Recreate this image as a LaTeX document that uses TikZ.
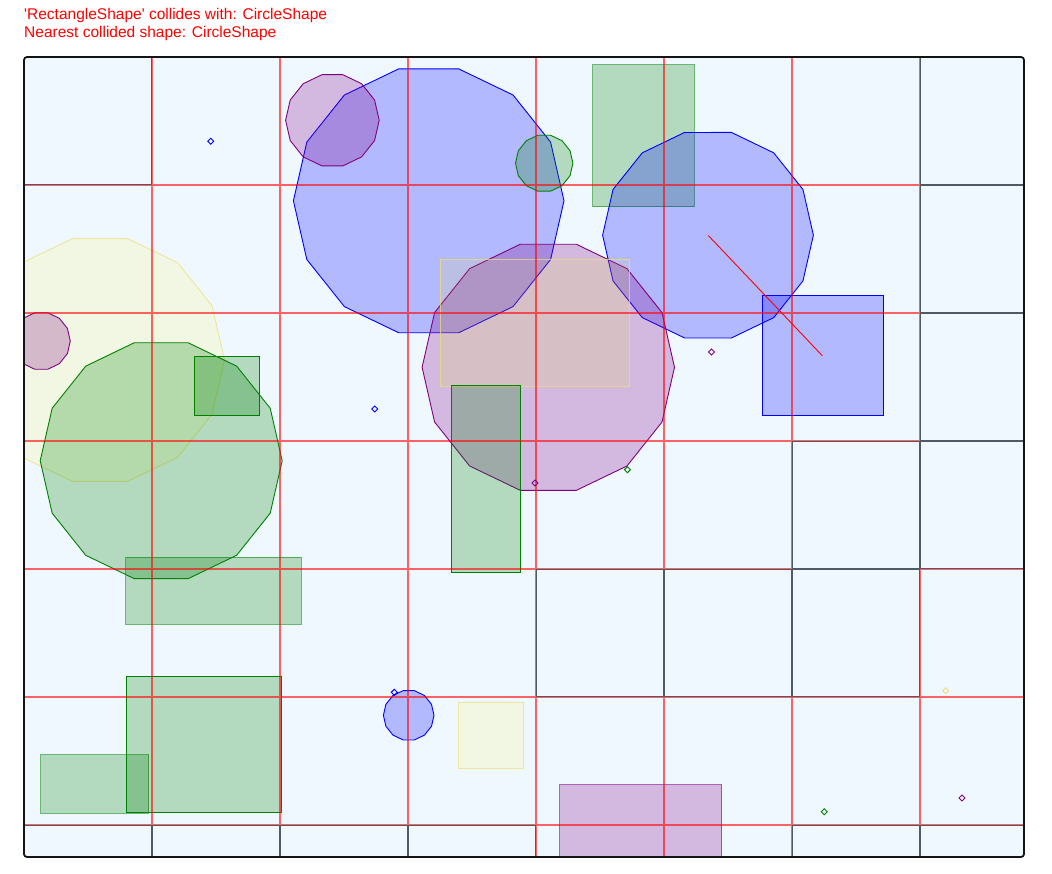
\documentclass[tikz,border=0pt]{standalone}
\usepackage{fontspec}
\setmainfont{Liberation Sans}
\definecolor{bgc}{RGB}{240,248,255}
\definecolor{gr}{RGB}{0,128,0}
\definecolor{pu}{RGB}{128,0,128}
\definecolor{gridgray}{RGB}{80,90,100}
\definecolor{yelstroke}{RGB}{236,224,120}
\tikzset{
  txt/.style={text=red, font=\fontsize{15.5}{18}\selectfont, inner sep=0pt},
  bluesh/.style={draw=blue, fill=blue, fill opacity=0.25, line width=0.9pt},
  pursh/.style={draw=pu, fill=pu, fill opacity=0.25, line width=0.9pt},
  pursl/.style={draw=pu, draw opacity=0.6, fill=pu, fill opacity=0.25, line width=0.9pt},
  grsh/.style={draw=gr, fill=gr, fill opacity=0.25, line width=0.9pt},
  grsl/.style={draw=gr, draw opacity=0.55, fill=gr, fill opacity=0.25, line width=0.9pt},
  yelsh/.style={draw=yelstroke, draw opacity=0.7, fill=yellow, fill opacity=0.11, line width=0.9pt},
  redcell/.style={draw=red, draw opacity=0.6, line width=1.5pt},
  graycell/.style={draw=gridgray, line width=1.3pt},
  diam/.style={line width=0.9pt},
}
\newcommand{\polyshape}[4]{%
  \draw[#1] plot[samples=14, domain=0:334.2857, variable=\t] ({#2+#4*cos(\t)},{#3+#4*sin(\t)}) -- cycle;}
\newcommand{\diamondmark}[3]{%
  \draw[diam,#1] (#2,#3) ++(-3,0) -- ++(3,3) -- ++(3,-3) -- ++(-3,-3) -- cycle;}
\newcommand{\cellbox}[3]{%
  \pgfmathsetmacro\xa{24+128*#2+0.7}%
  \pgfmathsetmacro\xb{min(24+128*(#2+1),1024)-0.7}%
  \pgfmathsetmacro\ya{57+128*#3+0.7}%
  \pgfmathsetmacro\yb{min(57+128*(#3+1),857)-0.7}%
  \draw[#1] (\xa,\ya) rectangle (\xb,\yb);}
\begin{document}
\begin{tikzpicture}[x=1pt,y=-1pt]
\useasboundingbox (0,0) rectangle (1052,873);
\node[txt, anchor=base west] (msg1) at (24,19) {\textquotesingle RectangleShape\textquotesingle{} collides with: CircleShape};
\node[txt, anchor=base west] (msg2) at (24,37.7) {Nearest collided shape: CircleShape};
\fill[bgc, rounded corners=3pt] (24,57) rectangle (1024,857);
\begin{scope}
  \clip (24,57) rectangle (1024,857);
  % circles (14-gons)
  \polyshape{bluesh}{428.7}{200.8}{135.3}
  \polyshape{pursh}{332.4}{120.3}{46.8}
  \polyshape{grsh}{544.2}{163.2}{28.7}
  \draw[grsl] (592.5,64.7) rectangle (694.3,206.7);
  \polyshape{bluesh}{708}{235.2}{105.4}
  \polyshape{pursh}{548.3}{367.3}{126.2}
  \draw[yelsh] (440.3,259.3) rectangle (629.5,386);
  \draw[grsh] (451,385.7) rectangle (520.7,572.7);
  \draw[bluesh] (762.7,295.3) rectangle (883,415.3);
  \polyshape{yelsh}{100}{360}{124.5}
  \polyshape{pursh}{41.3}{341}{29}
  \polyshape{grsh}{161.2}{460.7}{121}
  \draw[grsh] (194.3,356.7) rectangle (259.3,415.3);
  \draw[grsl] (125.7,557) rectangle (301.3,624);
  \draw[grsh] (126.3,676.3) rectangle (281.7,812.3);
  \draw[grsl] (40.7,754.7) rectangle (148.7,813);
  \polyshape{bluesh}{408.7}{715.3}{25.3}
  \draw[yelsh] (458.7,702.3) rectangle (523.7,768);
  \draw[pursl] (559.5,784.7) rectangle (721.5,870);
\end{scope}
% grid cells
\foreach \c/\r in {0/0,7/0,7/1,7/2,6/3,7/3,4/4,5/4,6/4,0/6,1/6,2/6,3/6,6/6,7/6}{\cellbox{graycell}{\c}{\r}}
\foreach \c/\r in {1/0,2/0,3/0,4/0,5/0,6/0,
                   0/1,1/1,2/1,3/1,4/1,5/1,6/1,
                   0/2,1/2,2/2,3/2,4/2,5/2,6/2,
                   0/3,1/3,2/3,3/3,4/3,5/3,
                   0/4,1/4,2/4,3/4,7/4,
                   0/5,1/5,2/5,3/5,4/5,5/5,6/5,7/5,
                   4/6,5/6}{\cellbox{redcell}{\c}{\r}}
% point markers
\diamondmark{blue}{210.7}{141.3}
\diamondmark{blue}{374.7}{409}
\diamondmark{pu}{535}{483}
\diamondmark{gr}{627.4}{469.7}
\diamondmark{pu}{711.5}{352}
\diamondmark{blue}{394.3}{692.3}
\diamondmark{yelstroke}{945.8}{690.7}
\diamondmark{gr}{824.3}{811.7}
\diamondmark{pu}{962}{798}
% direction line
\coordinate (la) at (708.3,235.5);
\coordinate (lb) at (822.3,355.7);
\draw[red, line width=0.9pt] (la) -- (lb);
% frame
\draw[black!92, line width=1.8pt, rounded corners=3pt] (24,57) rectangle (1024,857);
\end{tikzpicture}
\end{document}
